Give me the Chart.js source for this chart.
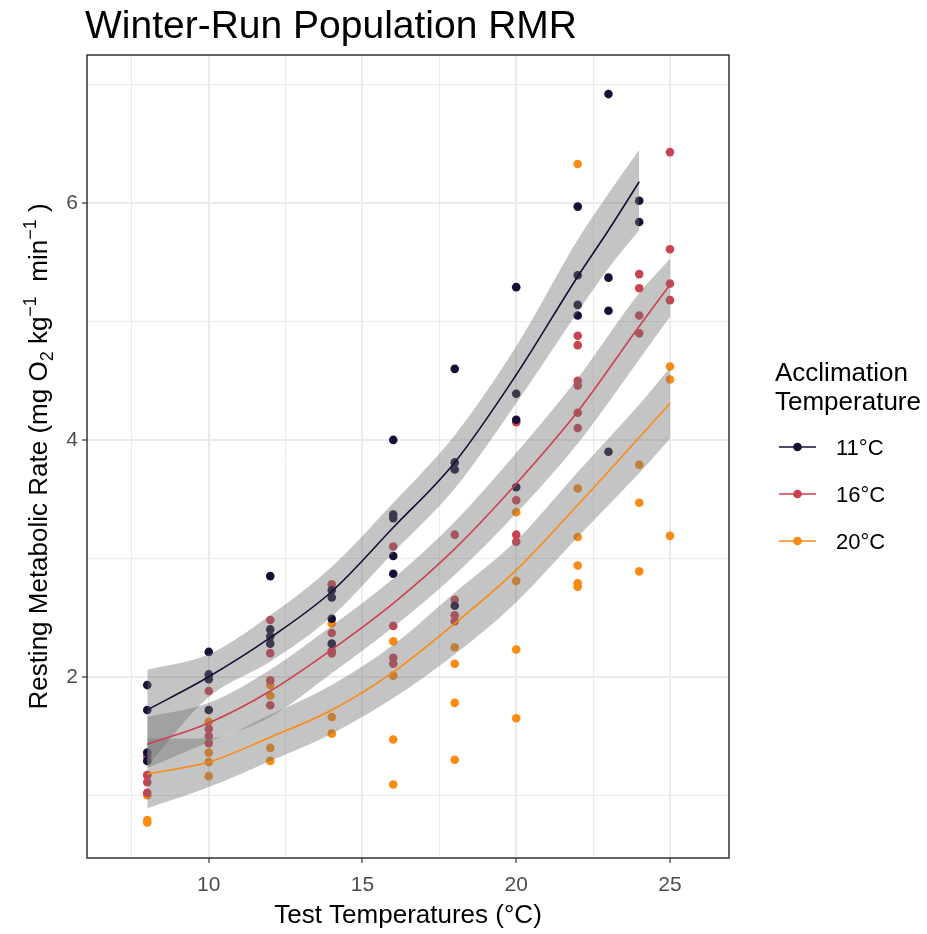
<!DOCTYPE html>
<html>
<head>
<meta charset="utf-8">
<title>Winter-Run Population RMR</title>
<script src="https://cdn.jsdelivr.net/npm/chart.js@4.4.1/dist/chart.umd.min.js"></script>
<style>
  html, body { margin: 0; padding: 0; background: #fff; }
  canvas { display: block; }
</style>
</head>
<body>
<canvas id="rmrChart" width="927" height="934"></canvas>
<script>
// acclimation groups
const groupLabels = ['11°C', '16°C', '20°C'];
const groupColors = ['#170F35', '#CC4150', '#FA8A10'];

// measured RMR per fish: [test temperature, mg O2 kg-1 min-1]
const rmr11 = [
  [8, 1.93], [8, 1.72], [8, 1.36], [8, 1.29],
  [10, 2.21], [10, 2.02], [10, 1.98], [10, 1.72],
  [12, 2.85], [12, 2.40], [12, 2.34], [12, 2.28],
  [14, 2.73], [14, 2.67], [14, 2.49], [14, 2.28],
  [16, 4.00], [16, 3.37], [16, 3.34], [16, 3.02], [16, 2.87],
  [18, 4.60], [18, 3.81], [18, 3.75], [18, 2.60],
  [20, 5.29], [20, 4.39], [20, 4.17], [20, 3.60],
  [22, 5.97], [22, 5.39], [22, 5.14], [22, 5.05],
  [23, 6.92], [23, 5.37], [23, 5.09], [23, 3.90],
  [24, 6.02], [24, 5.84]
];
const rmr16 = [
  [8, 1.33], [8, 1.17], [8, 1.11], [8, 1.02],
  [10, 1.88], [10, 1.56], [10, 1.50], [10, 1.44],
  [12, 2.48], [12, 2.20], [12, 1.97], [12, 1.76],
  [14, 2.78], [14, 2.37], [14, 2.22], [14, 2.20],
  [16, 3.10], [16, 2.43], [16, 2.16], [16, 2.11],
  [18, 3.20], [18, 2.65], [18, 2.52], [18, 2.47],
  [20, 4.15], [20, 3.49], [20, 3.20], [20, 3.14],
  [22, 4.88], [22, 4.80], [22, 4.50], [22, 4.46], [22, 4.23], [22, 4.10],
  [24, 5.40], [24, 5.28], [24, 5.05], [24, 4.90],
  [25, 6.43], [25, 5.61], [25, 5.32], [25, 5.18]
];
const rmr20 = [
  [8, 1.17], [8, 1.00], [8, 0.79], [8, 0.77],
  [10, 1.62], [10, 1.36], [10, 1.28], [10, 1.16],
  [12, 1.93], [12, 1.84], [12, 1.40], [12, 1.29],
  [14, 2.45], [14, 2.20], [14, 1.66], [14, 1.52],
  [16, 2.30], [16, 2.01], [16, 1.47], [16, 1.09],
  [18, 2.25], [18, 2.11], [18, 1.78], [18, 1.30],
  [20, 3.39], [20, 2.81], [20, 2.23], [20, 1.65],
  [22, 6.33], [22, 3.59], [22, 3.18], [22, 2.94], [22, 2.79], [22, 2.76],
  [24, 3.79], [24, 3.47], [24, 2.89],
  [25, 4.62], [25, 4.51], [25, 3.19]
];

// fitted curves with confidence band, evaluated at each test temperature
const fitX11 = [8, 10, 12, 14, 16, 18, 20, 22, 23, 24];
const fit11 = [1.72, 2.00, 2.33, 2.72, 3.26, 3.81, 4.55, 5.38, 5.77, 6.18];
const fitLo11 = [1.25, 1.83, 2.13, 2.51, 3.05, 3.59, 4.31, 5.08, 5.45, 5.77];
const fitHi11 = [2.06, 2.19, 2.52, 2.93, 3.47, 4.04, 4.79, 5.69, 6.08, 6.45];

const fitX16 = [8, 10, 12, 14, 16, 18, 20, 22, 24, 25];
const fit16 = [1.43, 1.61, 1.88, 2.23, 2.62, 3.08, 3.63, 4.24, 4.96, 5.31];
const fitLo16 = [1.23, 1.45, 1.66, 2.03, 2.42, 2.86, 3.38, 3.97, 4.68, 5.04];
const fitHi16 = [1.66, 1.78, 2.06, 2.43, 2.83, 3.31, 3.89, 4.52, 5.24, 5.53];

const fitX20 = [8, 10, 12, 14, 16, 18, 20, 22, 24, 25];
const fit20 = [1.18, 1.28, 1.49, 1.72, 2.04, 2.45, 2.90, 3.45, 4.02, 4.31];
const fitLo20 = [0.89, 1.07, 1.29, 1.52, 1.82, 2.19, 2.63, 3.18, 3.72, 4.01];
const fitHi20 = [1.48, 1.48, 1.68, 1.93, 2.27, 2.71, 3.15, 3.73, 4.30, 4.61];

// axis ticks
const xTicks = [10, 15, 20, 25];
const xMinorTicks = [7.5, 12.5, 17.5, 22.5];
const yTicks = [2, 4, 6];
const yMinorTicks = [1, 3, 5, 7];

const FONT = "'Liberation Sans', Arial, sans-serif";
const bandFill = 'rgba(115,115,115,0.42)';

const groups = [
  { points: rmr11, fx: fitX11, fit: fit11, lo: fitLo11, hi: fitHi11 },
  { points: rmr16, fx: fitX16, fit: fit16, lo: fitLo16, hi: fitHi16 },
  { points: rmr20, fx: fitX20, fit: fit20, lo: fitLo20, hi: fitHi20 }
];

const toXY = (xs, ys) => xs.map((x, i) => ({ x: x, y: ys[i] }));
const fromPairs = arr => arr.map(p => ({ x: p[0], y: p[1] }));

const datasets = [];
// raw points go underneath the bands
groups.forEach((g, i) => {
  datasets.push({
    label: groupLabels[i],
    data: fromPairs(g.points),
    showLine: false,
    pointRadius: 4.3,
    pointBackgroundColor: groupColors[i],
    pointBorderWidth: 0,
    order: 3
  });
});
// confidence ribbons: lower edge, then upper edge filled down to it
groups.forEach(g => {
  datasets.push({
    data: toXY(g.fx, g.lo),
    borderColor: 'rgba(0,0,0,0)',
    borderWidth: 0,
    pointRadius: 0,
    fill: false,
    cubicInterpolationMode: 'monotone',
    order: 2
  });
  datasets.push({
    data: toXY(g.fx, g.hi),
    borderColor: 'rgba(0,0,0,0)',
    borderWidth: 0,
    pointRadius: 0,
    backgroundColor: bandFill,
    fill: '-1',
    cubicInterpolationMode: 'monotone',
    order: 2
  });
});
// fitted lines on top
groups.forEach((g, i) => {
  datasets.push({
    data: toXY(g.fx, g.fit),
    borderColor: groupColors[i],
    borderWidth: 1.6,
    pointRadius: 0,
    fill: false,
    cubicInterpolationMode: 'monotone',
    order: 1
  });
});

function tickSet(major, minor) {
  return scale => {
    scale.ticks = major.concat(minor).sort((a, b) => a - b).map(v => ({ value: v }));
  };
}

// title, axis titles, panel border and legend
const decorations = {
  id: 'decorations',
  afterDraw(chart) {
    const ctx = chart.ctx;
    const a = chart.chartArea;
    ctx.save();

    ctx.strokeStyle = '#333333';
    ctx.lineWidth = 1.5;
    ctx.strokeRect(a.left, a.top, a.right - a.left, a.bottom - a.top);

    ctx.fillStyle = '#000';
    ctx.textBaseline = 'alphabetic';
    ctx.textAlign = 'left';
    ctx.font = '39px ' + FONT;
    ctx.fillText('Winter-Run Population RMR', 85, 38);

    ctx.textAlign = 'center';
    ctx.font = '26px ' + FONT;
    ctx.fillText('Test Temperatures (°C)', (a.left + a.right) / 2, 923);

    // y title with sub/superscripts
    const parts = [
      { t: 'Resting Metabolic Rate (mg ', s: 26, dy: 0 },
      { t: 'O', s: 26, dy: 0 },
      { t: '2', s: 18, dy: 6 },
      { t: ' kg', s: 26, dy: 0 },
      { t: '\u22121', s: 18, dy: -11 },
      { t: '  min', s: 26, dy: 0 },
      { t: '\u22121', s: 18, dy: -11 },
      { t: ' )', s: 26, dy: 0 }
    ];
    let total = 0;
    parts.forEach(p => { ctx.font = p.s + 'px ' + FONT; p.w = ctx.measureText(p.t).width; total += p.w; });
    ctx.translate(47, (a.top + a.bottom) / 2);
    ctx.rotate(-Math.PI / 2);
    ctx.textAlign = 'left';
    let px = -total / 2;
    parts.forEach(p => {
      ctx.font = p.s + 'px ' + FONT;
      ctx.fillText(p.t, px, p.dy);
      px += p.w;
    });
    ctx.setTransform(1, 0, 0, 1, 0, 0);

    // legend
    ctx.textAlign = 'left';
    ctx.font = '26px ' + FONT;
    ctx.fillText('Acclimation', 775, 381);
    ctx.fillText('Temperature', 775, 410);
    const rows = [447, 494, 541];
    groupLabels.forEach((lab, i) => {
      const y = rows[i];
      ctx.strokeStyle = groupColors[i];
      ctx.lineWidth = 1.6;
      ctx.beginPath();
      ctx.moveTo(779, y);
      ctx.lineTo(816, y);
      ctx.stroke();
      ctx.fillStyle = groupColors[i];
      ctx.beginPath();
      ctx.arc(797.5, y, 4.3, 0, Math.PI * 2);
      ctx.fill();
      ctx.fillStyle = '#000';
      ctx.font = '22px ' + FONT;
      ctx.fillText(lab, 836, y + 8);
    });
    ctx.restore();
  }
};

new Chart(document.getElementById('rmrChart'), {
  type: 'line',
  data: { datasets: datasets },
  options: {
    responsive: false,
    animation: false,
    events: [],
    layout: { padding: { top: 55, right: 198, bottom: 0, left: 0 } },
    plugins: {
      legend: { display: false },
      title: { display: false },
      tooltip: { enabled: false }
    },
    scales: {
      x: {
        type: 'linear',
        min: 6.04,
        max: 26.92,
        afterBuildTicks: tickSet(xTicks, xMinorTicks),
        afterFit: s => { s.height = 76; },
        border: { display: false },
        grid: {
          color: '#EBEBEB',
          lineWidth: c => xTicks.includes(c.tick.value) ? 2 : 1,
          tickLength: 5,
          tickWidth: 1.2,
          tickColor: c => xTicks.includes(c.tick.value) ? '#333333' : 'rgba(0,0,0,0)'
        },
        ticks: {
          autoSkip: false,
          maxRotation: 0,
          padding: 10,
          color: '#4D4D4D',
          font: { family: FONT, size: 21 },
          callback: v => xTicks.includes(v) ? String(v) : ''
        }
      },
      y: {
        type: 'linear',
        min: 0.47,
        max: 7.25,
        afterBuildTicks: tickSet(yTicks, yMinorTicks),
        afterFit: s => { s.width = 87; },
        border: { display: false },
        grid: {
          color: '#EBEBEB',
          lineWidth: c => yTicks.includes(c.tick.value) ? 2 : 1,
          tickLength: 5,
          tickWidth: 1.2,
          tickColor: c => yTicks.includes(c.tick.value) ? '#333333' : 'rgba(0,0,0,0)'
        },
        ticks: {
          autoSkip: false,
          padding: 4,
          color: '#4D4D4D',
          font: { family: FONT, size: 21 },
          callback: v => yTicks.includes(v) ? String(v) : ''
        }
      }
    }
  },
  plugins: [decorations]
});
</script>
</body>
</html>
